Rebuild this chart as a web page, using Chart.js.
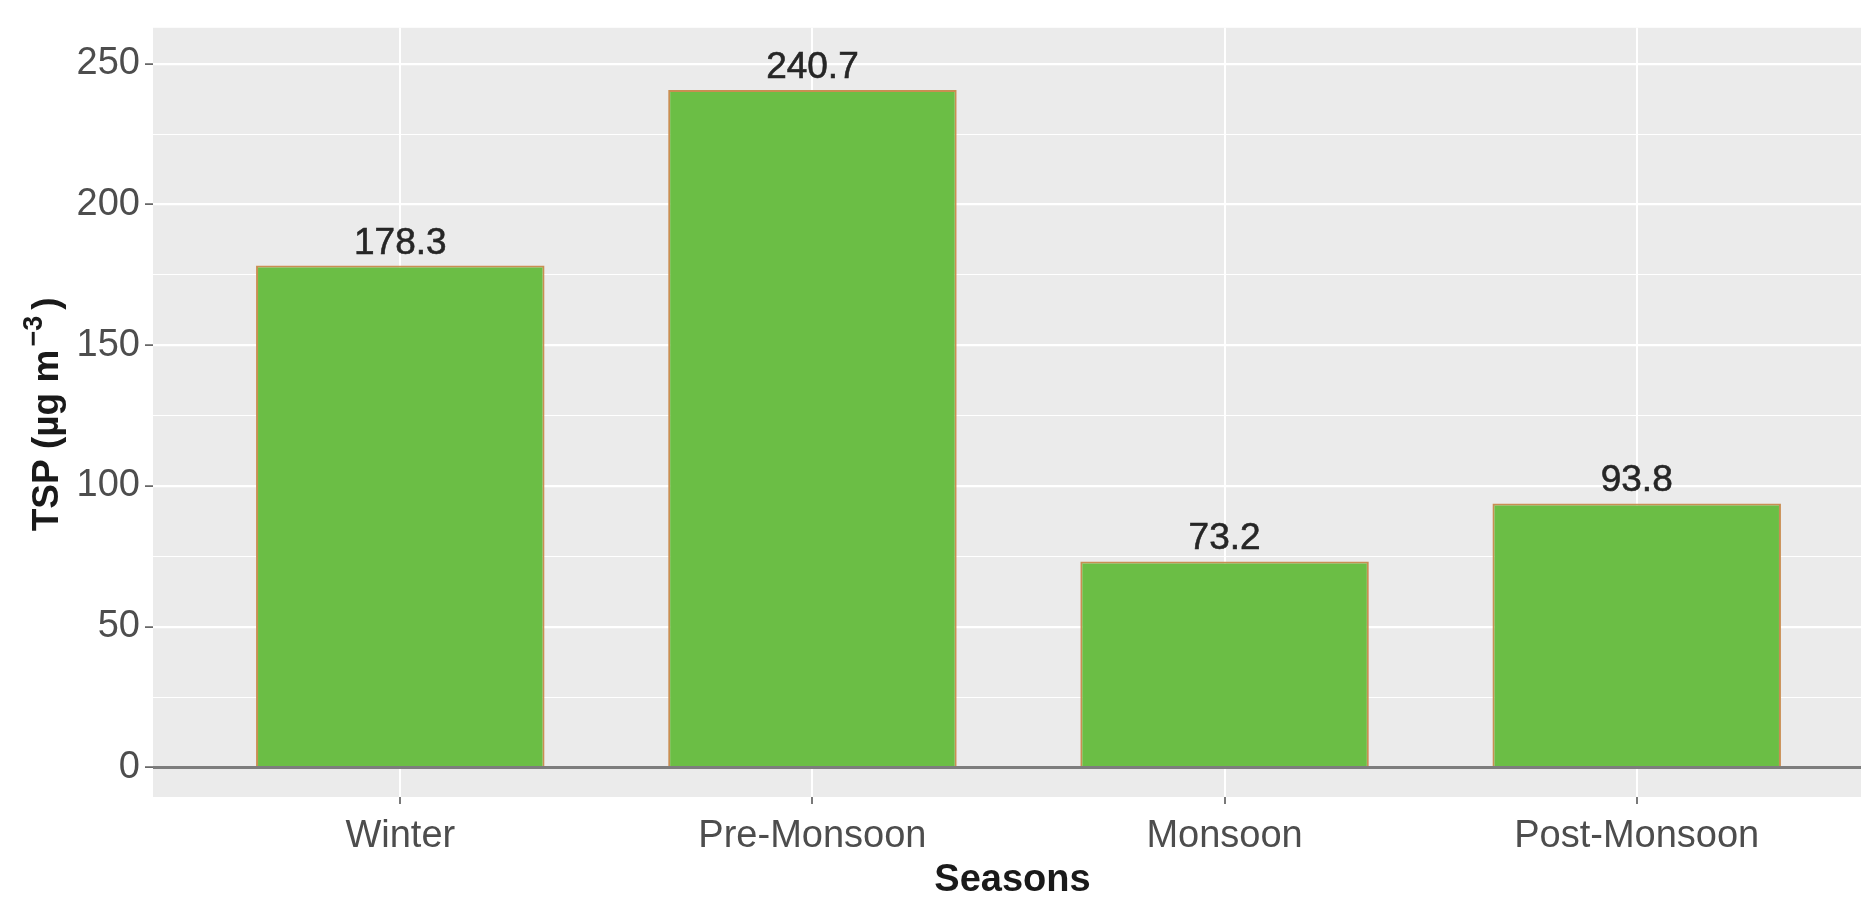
<!DOCTYPE html>
<html>
<head>
<meta charset="utf-8">
<script src="https://cdn.jsdelivr.net/npm/chart.js@4.4.1/dist/chart.umd.min.js"></script>
<style>
  html, body { margin: 0; padding: 0; background: #ffffff; overflow: hidden; }
  #wrap { width: 1861px; height: 897px; overflow: hidden; position: relative; }
  canvas { display: block; }
</style>
</head>
<body>
<div id="wrap"><canvas id="c" width="1900" height="897"></canvas></div>
<script>
const categories = ["Winter", "Pre-Monsoon", "Monsoon", "Post-Monsoon"];
const tspValues = [178.3, 240.7, 73.2, 93.8];
const yTicks = [0, 25, 50, 75, 100, 125, 150, 175, 200, 225, 250];
const xTitle = "Seasons";

const FONT = "'Liberation Sans', Arial, sans-serif";

const panelBg = {
  id: 'panelBg',
  beforeDraw(chart) {
    const { ctx, chartArea: a } = chart;
    ctx.save();
    ctx.fillStyle = '#EBEBEB';
    ctx.fillRect(a.left, a.top, a.right - a.left, a.bottom - a.top);
    ctx.restore();
  }
};

const zeroLine = {
  id: 'zeroLine',
  afterDatasetsDraw(chart) {
    const { ctx, chartArea: a, scales } = chart;
    const y = scales.y.getPixelForValue(0);
    ctx.save();
    ctx.strokeStyle = '#7d7d7d';
    ctx.lineWidth = 3;
    ctx.beginPath();
    ctx.moveTo(a.left, y);
    ctx.lineTo(a.right, y);
    ctx.stroke();
    // value labels
    const meta = chart.getDatasetMeta(0);
    ctx.fillStyle = '#262626';
    ctx.strokeStyle = '#262626';
    ctx.lineWidth = 0.6;
    ctx.font = '37px ' + FONT;
    ctx.textAlign = 'center';
    ctx.textBaseline = 'alphabetic';
    meta.data.forEach((bar, i) => {
      const t = tspValues[i].toFixed(1);
      ctx.fillText(t, bar.x, bar.y - 12);
      ctx.strokeText(t, bar.x, bar.y - 12);
    });
    ctx.restore();
  }
};

const titles = {
  id: 'titles',
  afterDraw(chart) {
    const { ctx, chartArea: a } = chart;
    ctx.save();
    ctx.fillStyle = '#1a1a1a';
    ctx.font = 'bold 38px ' + FONT;
    ctx.textAlign = 'center';
    ctx.textBaseline = 'alphabetic';
    ctx.fillText(xTitle, (a.left + a.right) / 2 - 6, 891);
    ctx.restore();

    // y title with superscript: TSP (µg m^-3)
    const big = 'bold 37px ' + FONT;
    const small = 'bold 27px ' + FONT;
    const parts = [
      { t: 'TSP (\u00b5g m', font: big, dy: 0, gapAfter: 3 },
      { t: '\u22123', font: small, dy: -16, gapAfter: 6 },
      { t: ')', font: big, dy: 0, gapAfter: 0 }
    ];
    ctx.save();
    let total = 0;
    parts.forEach(p => { ctx.font = p.font; p.w = ctx.measureText(p.t).width; total += p.w + p.gapAfter; });
    const cy = (a.top + a.bottom) / 2 + 2;
    ctx.fillStyle = '#1a1a1a';
    ctx.textBaseline = 'alphabetic';
    ctx.textAlign = 'left';
    ctx.translate(58, cy);
    ctx.rotate(-Math.PI / 2);
    let x = -total / 2;
    parts.forEach(p => {
      ctx.font = p.font;
      ctx.fillText(p.t, x, p.dy);
      x += p.w + p.gapAfter;
    });
    ctx.restore();
  }
};

new Chart(document.getElementById('c'), {
  type: 'bar',
  data: {
    datasets: [{
      data: tspValues.map((v, i) => ({ x: i, y: v })),
      backgroundColor: '#6BBE45',
      borderColor: '#C98E52',
      borderWidth: 2,
      borderSkipped: 'start',
      barPercentage: 0.7,
      categoryPercentage: 1.0
    }]
  },
  plugins: [panelBg, zeroLine, titles],
  options: {
    responsive: false,
    animation: false,
    devicePixelRatio: 1,
    layout: { padding: { left: 0, top: 20, right: 16, bottom: 0 } },
    plugins: { legend: { display: false }, tooltip: { enabled: false } },
    scales: {
      x: {
        type: 'linear',
        min: -0.6,
        max: 3.6,
        offset: false,
        border: { display: false },
        afterBuildTicks(scale) { scale.ticks = categories.map((c, i) => ({ value: i })); },
        afterFit(scale) { scale.height = 100; },
        ticks: {
          autoSkip: false,
          maxRotation: 0,
          padding: 10,
          color: '#4D4D4D',
          font: { family: FONT, size: 38 },
          callback: (v) => categories[v]
        },
        grid: {
          offset: false,
          color: '#FFFFFF',
          lineWidth: 2,
          drawTicks: true,
          tickLength: 7,
          tickColor: '#4D4D4D',
          tickWidth: 1.5
        }
      },
      y: {
        type: 'linear',
        min: -10.5,
        max: 262.8,
        border: { display: false },
        afterBuildTicks(scale) { scale.ticks = yTicks.map(v => ({ value: v })); },
        afterFit(scale) { scale.width = 153; },
        ticks: {
          padding: 5,
          color: '#4D4D4D',
          font: { family: FONT, size: 38 },
          callback: (v) => (v % 50 === 0 ? String(v) : '')
        },
        grid: {
          color: '#FFFFFF',
          lineWidth: (ctx) => (ctx.tick && ctx.tick.value % 50 === 0 ? 2.2 : 1.1),
          drawTicks: true,
          tickLength: 8,
          tickColor: (ctx) => (ctx.tick && ctx.tick.value % 50 === 0 ? '#4D4D4D' : 'rgba(0,0,0,0)'),
          tickWidth: 1.5
        }
      }
    }
  }
});
</script>
</body>
</html>
